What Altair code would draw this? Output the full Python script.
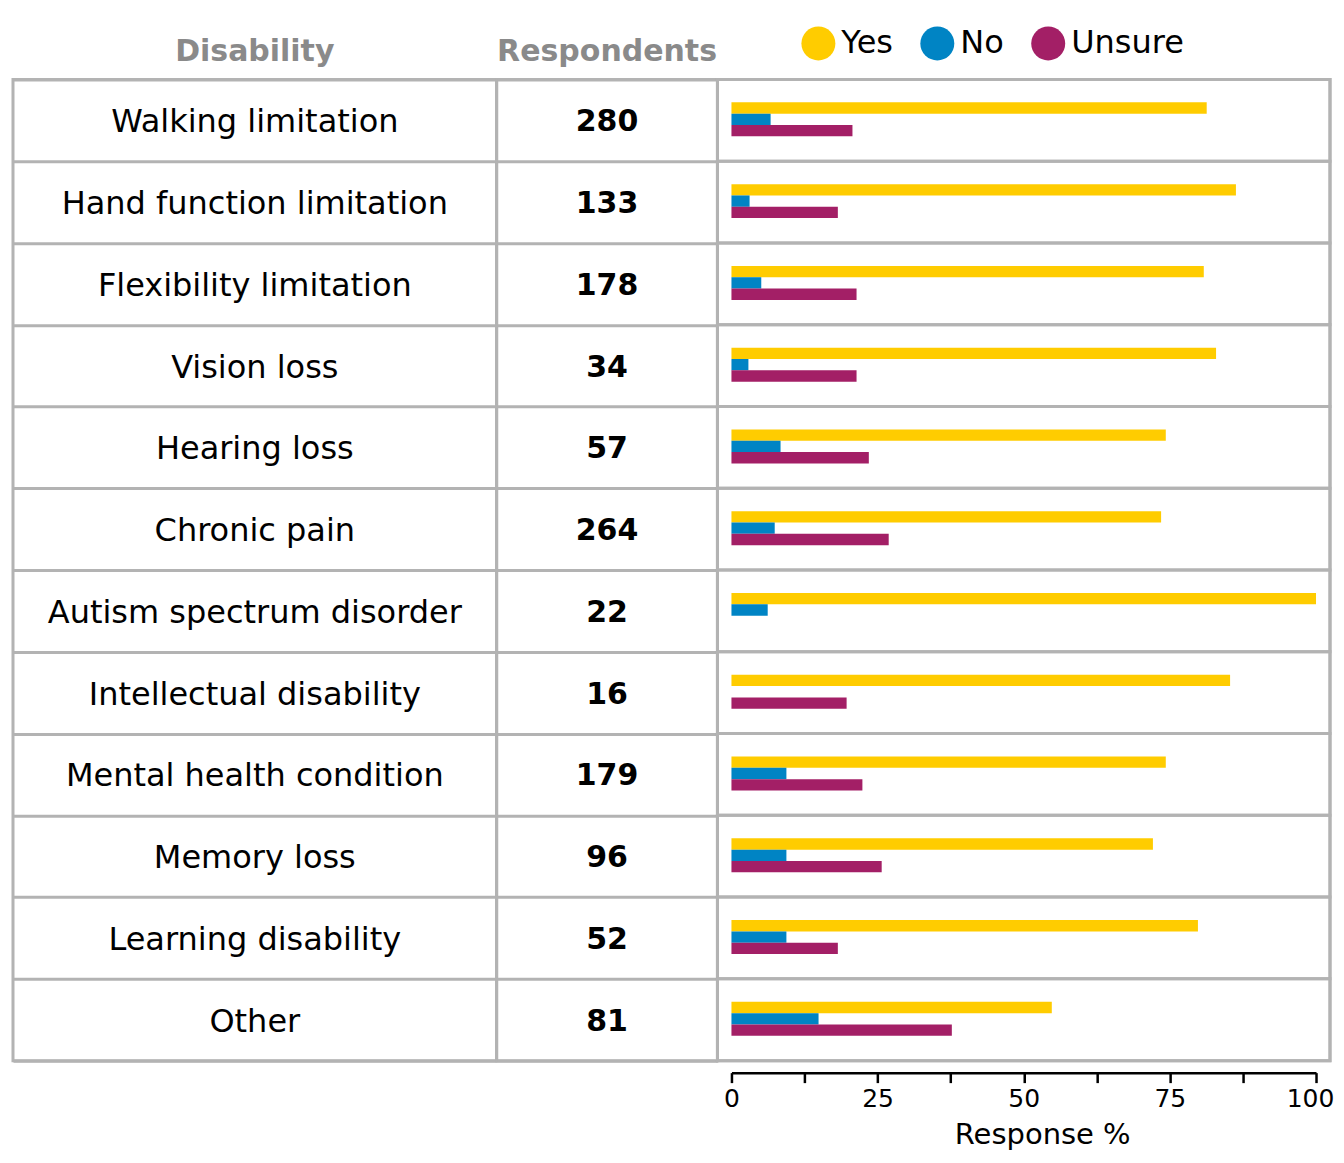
import altair as alt
import pandas as pd

# ---- data ----
disabilities = [
    "Walking limitation", "Hand function limitation", "Flexibility limitation",
    "Vision loss", "Hearing loss", "Chronic pain", "Autism spectrum disorder",
    "Intellectual disability", "Mental health condition", "Memory loss",
    "Learning disability", "Other",
]
respondents = [280, 133, 178, 34, 57, 264, 22, 16, 179, 96, 52, 81]
yes_pct = [81.3, 86.3, 80.8, 82.9, 74.3, 73.5, 100.0, 85.3, 74.3, 72.1, 79.8, 54.8]
no_pct = [6.7, 3.1, 5.1, 2.9, 8.4, 7.4, 6.2, None, 9.4, 9.4, 9.4, 14.9]
unsure_pct = [20.7, 18.2, 21.4, 21.4, 23.5, 26.9, None, 19.7, 22.4, 25.7, 18.2, 37.7]
responses = ["Yes", "No", "Unsure"]
colors = ["#FFCC00", "#0084C4", "#A31F66"]
tick_values = [0, 12.5, 25, 37.5, 50, 62.5, 75, 87.5, 100]

# ---- tables built from the arrays ----
table = pd.DataFrame({"Disability": disabilities, "Respondents": respondents})
rows = []
for resp, vals in zip(responses, [yes_pct, no_pct, unsure_pct]):
    for d, v in zip(disabilities, vals):
        if v is not None:
            rows.append({"Disability": d, "Response": resp, "Value": v})
long = pd.DataFrame(rows)

FONT = "DejaVu Sans"
GRID = "#b3b3b3"
H = 982

y_enc = alt.Y(
    "Disability:N", sort=disabilities,
    scale=alt.Scale(paddingInner=0, paddingOuter=0),
    axis=alt.Axis(title=None, labels=False, ticks=False, domain=False, grid=True,
                  gridColor=GRID, gridWidth=3, gridOpacity=1, tickBand="extent"),
)
y_enc_c = alt.Y(
    "Disability:N", sort=disabilities,
    scale=alt.Scale(paddingInner=0, paddingOuter=0),
    axis=None,
)

panel_a = alt.Chart(table, title=alt.Title("Disability")).mark_text(
    font=FONT, fontSize=32, color="black", dy=2
).encode(y=y_enc, text="Disability:N").properties(width=484, height=H)

panel_b = alt.Chart(table, title=alt.Title("Respondents")).mark_text(
    font=FONT, fontSize=30, fontWeight="bold", color="black", dy=2
).encode(y=y_enc, text="Respondents:Q").properties(width=221, height=H)

row_cells = alt.Chart(table).mark_rect(
    fillOpacity=0, stroke=GRID, strokeWidth=3
).encode(y=y_enc_c)

bars = alt.Chart(long).mark_bar().encode(
    y=y_enc_c,
    yOffset=alt.YOffset("Response:N", sort=responses,
                        scale=alt.Scale(domain=responses, range=[23, 57],
                                        paddingInner=0, paddingOuter=0)),
    x=alt.X("Value:Q",
            scale=alt.Scale(domain=[0, 100], range=[14, 599], nice=False, zero=True),
            axis=alt.Axis(values=tick_values,
                          labelExpr="datum.value % 25 == 0 ? datum.label : ''",
                          title="Response %", offset=12, grid=False,
                          tickSize=10, tickWidth=2.5, tickColor="black",
                          domainColor="black", domainWidth=2.5,
                          labelFont=FONT, labelFontSize=25, labelColor="black",
                          labelFlush=False, labelOverlap=False, labelPadding=4,
                          labelOffset={"condition": {"test": "datum.value == 100", "value": -6},
                                       "value": 0},
                          titleFont=FONT, titleFontSize=29, titleFontWeight="normal",
                          titleColor="black", titlePadding=9, titleX=325)),
    color=alt.Color("Response:N", sort=responses,
                    scale=alt.Scale(domain=responses, range=colors),
                    legend=alt.Legend(title=None, orient="none", legendX=789, legendY=-53,
                                      direction="horizontal", symbolType="circle",
                                      symbolSize=1156, symbolStrokeWidth=0, symbolOpacity=1,
                                      labelFont=FONT, labelFontSize=32, labelColor="black",
                                      columnPadding=27, labelOffset=6)),
)

panel_c = alt.layer(row_cells, bars).properties(width=613, height=H)

chart = alt.hconcat(panel_a, panel_b, panel_c, spacing=0, bounds="flush").properties(
    padding={"top": 18, "left": 3, "right": 0, "bottom": 0}
).configure_view(
    stroke=GRID, strokeWidth=3
).configure_title(
    font=FONT, fontSize=30, fontWeight="bold", color="#8a8a8a", anchor="middle", offset=12
)

chart.save("out.html", embed_options={"renderer": "svg", "actions": False})
